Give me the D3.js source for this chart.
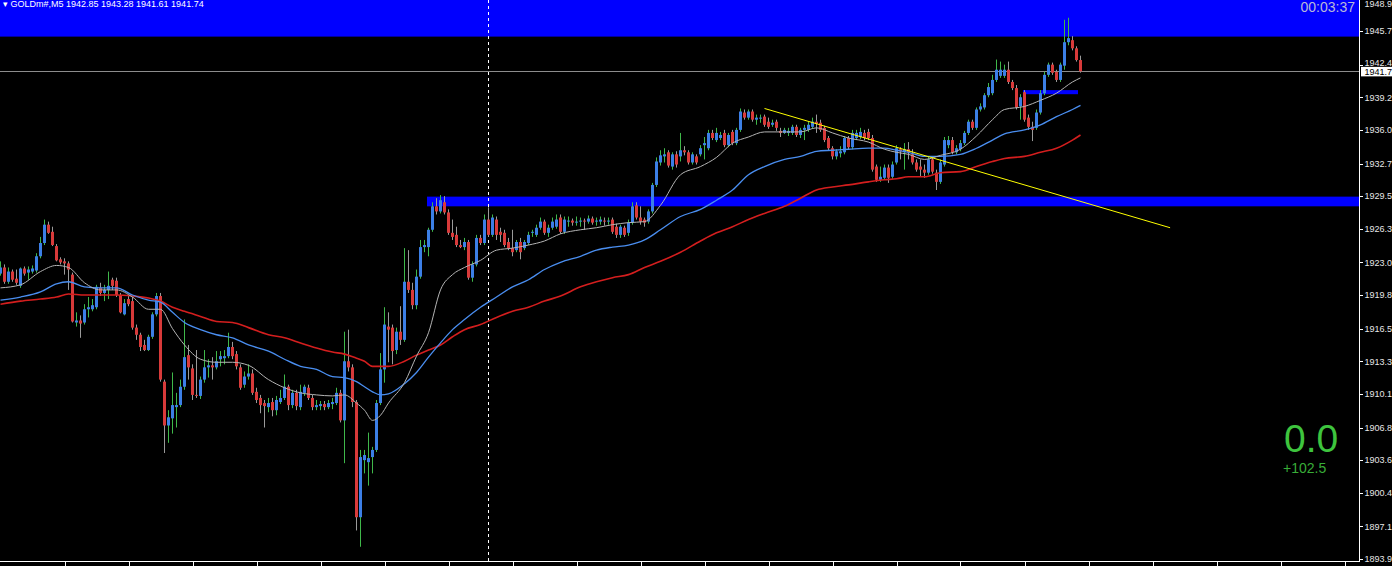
<!DOCTYPE html>
<html><head><meta charset="utf-8">
<script src="https://cdn.jsdelivr.net/npm/d3@7"></script>
<style>html,body{margin:0;padding:0;background:#000;overflow:hidden}</style>
</head><body><svg id="c" width="1392" height="566"></svg>
<script>
// ---- data ----
const symbolTitle = "GOLDm#,M5  1942.85 1943.28 1941.61 1941.74";
const timerText = "00:03:37";
const bigValue = "0.0";
const subValue = "+102.5";
const lastPrice = 1941.74;
const lastPriceLabel = "1941.7";
const tickLabels = ["1948.9","1945.7","1942.4","1939.2","1936.0","1932.7","1929.5","1926.3","1923.0","1919.8","1916.5","1913.3","1910.1","1906.8","1903.6","1900.4","1897.1","1893.9"];
// [open, high, low, close] per M5 bar
const ohlc = [
[1921.9,1923.1,1921.7,1922.5],[1922.5,1922.8,1920.9,1921.1],[1921.1,1922.5,1920.9,1922.1],[1922.1,1922.3,1921.1,1921.3],[1921.4,1922.3,1920.8,1921.0],
[1920.7,1922.5,1920.5,1922.4],[1922.4,1922.6,1921.7,1921.9],[1922.0,1922.6,1921.3,1922.3],[1922.1,1922.7,1921.9,1922.4],[1922.2,1923.9,1922.0,1923.6],
[1923.6,1925.5,1923.4,1924.9],[1924.9,1927.2,1924.7,1926.7],[1926.7,1927.0,1925.8,1925.9],[1926.0,1926.5,1924.6,1924.7],[1924.6,1924.8,1923.1,1923.2],
[1923.3,1923.5,1922.8,1923.0],[1923.1,1923.4,1921.8,1922.9],[1922.9,1923.1,1920.3,1922.3],[1921.8,1922.0,1917.1,1917.2],[1917.1,1918.1,1916.7,1917.3],
[1917.3,1917.8,1915.6,1917.0],[1917.1,1918.9,1916.9,1918.4],[1918.4,1919.6,1917.6,1918.6],[1918.4,1919.4,1918.2,1918.8],[1918.6,1920.8,1918.4,1920.6],
[1920.5,1921.0,1919.7,1920.0],[1920.0,1920.8,1919.2,1920.3],[1920.3,1922.1,1919.4,1920.7],[1921.3,1921.5,1920.3,1920.7],[1921.2,1921.5,1919.6,1919.8],
[1919.8,1920.0,1918.0,1918.1],[1917.9,1919.4,1917.8,1919.0],[1919.4,1919.7,1918.7,1918.9],[1919.2,1919.6,1916.4,1916.6],[1916.6,1916.9,1915.4,1915.9],
[1915.9,1916.1,1914.3,1914.7],[1914.9,1915.4,1914.3,1914.4],[1914.4,1915.9,1914.3,1915.7],[1915.7,1918.1,1915.5,1917.9],[1917.9,1920.0,1917.7,1919.7],
[1919.7,1920.0,1911.3,1911.5],[1911.3,1911.5,1904.3,1907.0],[1907.0,1908.5,1905.3,1907.8],[1907.7,1912.2,1906.2,1909.0],[1908.8,1910.2,1906.8,1909.0],
[1909.0,1911.5,1908.8,1910.8],[1910.8,1917.4,1910.5,1913.7],[1913.9,1914.9,1911.5,1912.7],[1912.6,1913.0,1909.5,1910.0],[1910.0,1914.4,1909.7,1909.9],
[1909.9,1911.8,1909.6,1911.5],[1911.5,1914.4,1911.2,1912.7],[1912.7,1913.5,1911.7,1912.9],[1912.9,1913.7,1911.5,1912.7],[1912.7,1914.3,1912.5,1913.3],
[1913.5,1914.3,1912.8,1913.8],[1913.6,1914.4,1913.0,1913.8],[1913.8,1916.1,1913.6,1914.7],[1914.7,1915.2,1913.5,1913.8],[1914.0,1914.3,1912.5,1912.8],
[1912.7,1913.0,1910.5,1910.7],[1911.0,1912.3,1910.7,1911.8],[1911.8,1913.0,1911.5,1912.1],[1912.1,1912.5,1910.0,1910.2],[1910.3,1910.7,1909.2,1909.5],
[1909.7,1910.0,1908.2,1909.0],[1909.2,1909.5,1906.8,1908.9],[1908.8,1909.7,1908.3,1909.2],[1909.3,1909.7,1907.9,1908.5],[1908.5,1909.9,1908.0,1909.5],
[1909.3,1910.5,1909.1,1909.7],[1909.7,1912.0,1909.5,1910.8],[1910.8,1911.0,1908.5,1909.0],[1909.0,1910.5,1908.7,1910.2],[1910.2,1910.5,1908.5,1908.9],
[1908.8,1911.0,1908.5,1910.3],[1910.2,1911.0,1909.9,1910.8],[1910.7,1911.0,1909.5,1909.7],[1909.7,1910.0,1908.5,1908.8],[1908.8,1909.5,1908.5,1909.0],
[1908.9,1909.4,1908.5,1909.1],[1909.1,1909.4,1908.5,1908.8],[1908.8,1909.5,1908.6,1909.2],[1909.1,1909.7,1908.6,1909.3],[1909.2,1910.7,1909.0,1910.2],
[1910.2,1910.5,1907.3,1907.5],[1907.5,1916.2,1903.3,1913.3],[1913.3,1916.4,1912.3,1912.7],[1912.7,1913.0,1908.8,1909.3],[1909.3,1909.5,1896.7,1898.0],
[1898.0,1904.6,1895.1,1903.9],[1903.6,1904.6,1902.3,1904.1],[1903.4,1906.3,1901.1,1903.8],[1903.9,1904.9,1902.3,1904.6],[1904.6,1909.5,1904.4,1909.2],
[1909.2,1914.1,1909.0,1912.5],[1912.5,1918.6,1911.2,1916.9],[1916.7,1918.1,1913.2,1916.4],[1916.6,1916.9,1913.0,1914.3],[1914.4,1916.6,1914.0,1916.2],
[1916.2,1918.7,1914.9,1915.4],[1915.4,1924.4,1915.2,1921.1],[1921.1,1924.2,1920.0,1920.3],[1920.3,1921.0,1918.4,1918.8],[1918.8,1922.3,1918.4,1921.6],
[1921.6,1925.2,1921.4,1924.5],[1924.5,1925.2,1924.0,1924.7],[1924.5,1926.4,1923.6,1926.2],[1926.2,1928.9,1926.0,1928.5],[1928.5,1929.3,1927.7,1928.0],
[1928.0,1929.6,1927.8,1929.1],[1928.9,1929.5,1927.7,1927.9],[1927.9,1928.2,1925.7,1925.9],[1925.9,1927.2,1925.2,1925.5],[1925.7,1926.5,1924.5,1924.7],
[1924.7,1925.2,1924.4,1924.5],[1924.5,1925.4,1924.2,1925.0],[1925.0,1925.2,1921.3,1921.5],[1921.5,1923.1,1921.1,1922.8],[1922.8,1925.7,1922.6,1925.4],
[1925.4,1925.7,1924.7,1924.9],[1924.9,1927.7,1924.7,1927.2],[1927.2,1928.4,1925.5,1925.7],[1925.7,1927.7,1925.5,1927.4],[1927.2,1927.5,1925.2,1925.7],
[1926.0,1926.4,1925.0,1925.7],[1925.9,1926.2,1924.5,1924.7],[1925.0,1925.4,1924.2,1924.4],[1924.4,1926.2,1923.6,1924.0],[1924.2,1925.2,1924.0,1925.0],
[1925.0,1925.4,1923.3,1924.0],[1924.4,1925.2,1924.2,1925.0],[1924.9,1926.0,1924.7,1925.7],[1925.9,1926.2,1925.5,1926.0],[1925.7,1926.7,1925.5,1926.4],
[1926.4,1927.4,1926.2,1927.0],[1927.0,1927.2,1925.7,1925.9],[1925.9,1926.7,1925.5,1926.4],[1926.4,1927.4,1926.2,1927.0],[1926.5,1927.7,1926.3,1927.2],
[1927.4,1927.7,1925.8,1926.0],[1926.0,1927.5,1925.8,1927.2],[1927.0,1927.5,1926.5,1927.1],[1927.1,1927.3,1926.6,1926.9],[1926.9,1927.5,1926.6,1927.0],
[1927.0,1927.4,1926.5,1927.1],[1927.1,1927.3,1926.2,1927.0],[1927.0,1927.6,1926.8,1927.3],[1927.3,1927.5,1926.7,1926.9],[1927.0,1927.4,1926.6,1927.1],
[1927.0,1927.5,1926.7,1927.2],[1927.1,1927.4,1926.6,1927.0],[1927.0,1927.4,1926.7,1927.1],[1927.2,1927.4,1925.8,1926.0],[1926.5,1926.8,1925.4,1925.7],
[1925.7,1926.7,1925.4,1926.5],[1926.4,1926.6,1925.5,1925.7],[1925.9,1927.2,1925.6,1926.9],[1926.9,1928.9,1926.7,1928.5],[1928.6,1928.9,1927.2,1927.4],
[1927.4,1928.5,1926.7,1927.0],[1927.2,1927.4,1926.5,1926.9],[1927.0,1928.2,1926.8,1928.0],[1928.0,1930.8,1927.8,1930.6],[1930.6,1933.3,1930.4,1932.9],
[1932.8,1934.0,1932.5,1933.5],[1933.4,1934.2,1932.8,1933.6],[1933.8,1934.0,1932.3,1932.5],[1932.4,1933.8,1932.1,1933.6],[1933.6,1933.9,1932.3,1932.6],
[1933.4,1935.7,1932.9,1934.0],[1934.0,1934.4,1933.5,1933.8],[1933.8,1934.0,1932.6,1932.8],[1932.8,1933.8,1932.6,1933.6],[1933.4,1933.6,1932.6,1932.8],
[1933.6,1934.5,1933.4,1934.2],[1934.5,1935.3,1933.1,1934.7],[1934.2,1936.0,1934.0,1935.7],[1935.7,1936.0,1935.0,1935.2],[1935.0,1936.2,1934.8,1935.7],
[1935.2,1935.8,1935.0,1935.5],[1935.7,1936.0,1934.3,1934.5],[1934.5,1935.7,1934.3,1935.5],[1935.8,1936.0,1934.5,1934.7],[1934.7,1936.2,1934.5,1936.0],
[1936.0,1938.1,1935.8,1937.8],[1937.7,1938.0,1937.0,1937.2],[1937.2,1938.0,1937.0,1937.8],[1937.8,1938.0,1936.8,1937.0],[1937.0,1937.5,1936.5,1937.2],
[1937.1,1937.5,1936.7,1937.2],[1937.3,1937.5,1936.3,1936.5],[1936.8,1937.2,1936.1,1936.3],[1936.5,1937.0,1936.3,1936.7],[1936.8,1937.0,1935.9,1936.2],
[1935.9,1936.2,1935.3,1935.7],[1935.7,1936.2,1935.6,1936.0],[1935.7,1936.2,1935.4,1935.9],[1935.7,1936.5,1935.5,1936.3],[1936.3,1936.5,1935.3,1935.5],
[1935.5,1936.2,1935.2,1936.0],[1936.0,1936.5,1935.0,1936.2],[1936.0,1936.8,1935.8,1936.5],[1936.3,1937.2,1936.1,1936.8],[1936.8,1937.5,1935.7,1936.6],
[1936.7,1937.0,1935.8,1936.0],[1936.2,1936.4,1934.8,1935.0],[1935.2,1935.4,1934.0,1934.2],[1934.2,1934.4,1933.1,1933.4],[1933.4,1934.1,1933.1,1933.9],
[1933.7,1934.4,1933.3,1933.9],[1933.8,1935.4,1933.6,1935.2],[1935.2,1935.4,1934.1,1934.3],[1934.3,1936.0,1934.1,1935.7],[1935.2,1936.0,1935.0,1935.7],
[1935.3,1936.2,1935.1,1935.8],[1935.7,1936.0,1935.0,1935.2],[1935.8,1936.1,1935.0,1935.2],[1935.2,1935.5,1931.9,1932.1],[1932.4,1932.6,1930.9,1931.1],
[1931.1,1932.4,1930.9,1931.4],[1931.3,1932.6,1931.1,1932.3],[1932.3,1932.6,1930.8,1931.3],[1931.4,1932.9,1931.2,1932.6],[1932.8,1934.5,1932.6,1934.2],
[1934.1,1934.3,1933.1,1933.9],[1933.8,1934.7,1932.1,1934.1],[1934.1,1934.8,1933.1,1933.8],[1933.6,1934.1,1932.6,1932.8],[1932.8,1933.1,1931.9,1932.1],
[1932.4,1933.1,1931.4,1932.1],[1932.1,1932.6,1931.3,1931.8],[1931.8,1933.4,1931.6,1933.1],[1933.1,1933.4,1931.7,1931.9],[1931.8,1932.1,1930.1,1930.9],
[1930.9,1933.1,1930.7,1932.8],[1932.6,1935.3,1932.4,1935.0],[1934.5,1935.4,1934.2,1935.0],[1935.0,1935.3,1933.6,1933.8],[1933.8,1934.5,1933.6,1934.2],
[1934.1,1935.0,1933.9,1934.7],[1934.7,1935.9,1934.5,1935.7],[1935.7,1937.0,1935.5,1936.8],[1936.8,1937.0,1936.0,1936.2],[1936.2,1938.2,1936.0,1938.0],
[1938.0,1938.6,1937.8,1938.3],[1938.2,1939.6,1938.0,1939.4],[1939.4,1940.6,1939.2,1940.2],[1939.6,1941.4,1939.4,1940.9],[1940.9,1942.9,1940.7,1941.9],
[1941.3,1942.7,1941.1,1941.9],[1941.3,1942.4,1941.1,1941.9],[1941.9,1942.7,1940.5,1940.7],[1940.7,1940.9,1939.9,1940.1],[1940.1,1940.4,1938.0,1938.2],
[1938.3,1939.5,1937.0,1939.2],[1939.7,1939.9,1936.8,1937.0],[1937.2,1937.5,1936.0,1936.3],[1936.3,1936.8,1934.9,1936.0],[1936.2,1938.0,1936.0,1937.7],
[1937.7,1939.9,1937.5,1939.6],[1939.6,1941.7,1939.4,1941.4],[1941.4,1942.6,1941.2,1942.4],[1942.4,1942.6,1941.4,1941.6],[1941.7,1941.9,1940.7,1940.9],
[1940.9,1942.6,1940.7,1942.4],[1942.3,1946.8,1941.9,1944.6],[1944.6,1947.0,1944.3,1945.0],[1944.8,1945.2,1943.8,1944.0],[1944.0,1944.2,1942.7,1942.85],
[1942.85,1943.28,1941.61,1941.74]
];
// moving averages read at these bar indices
const maIdx = [0,5,10,14,17,21,25,29,33,37,40,43,46,50,54,58,62,67,71,75,79,83,86,89,91,93,95,97,101,104,107,110,113,116,120,124,128,132,136,140,145,149,153,157,161,165,170,175,179,183,187,191,196,200,204,208,212,217,221,224,227,231,235,240,244,248,251,256,260,264,268,270];
const maGray = [1920.5,1920.8,1922.1,1922.7,1922.5,1921.0,1920.3,1920.3,1919.6,1918.4,1918.4,1916.5,1914.9,1913.5,1913.2,1913.2,1912.9,1911.5,1910.7,1910.2,1910.0,1909.9,1910.0,1909.2,1908.5,1907.5,1908.0,1909.2,1911.2,1913.8,1916.1,1920.3,1921.8,1922.5,1923.2,1924.2,1924.4,1924.7,1925.1,1925.8,1926.2,1926.4,1926.7,1926.9,1927.0,1928.6,1931.6,1932.4,1933.3,1934.7,1935.3,1935.8,1935.8,1935.8,1936.2,1935.7,1935.2,1934.8,1934.1,1933.8,1933.6,1933.1,1933.5,1934.1,1935.4,1937.0,1938.0,1938.3,1938.9,1939.6,1940.7,1941.1];
const maBlue = [1919.3,1919.6,1920.1,1920.9,1921.1,1920.6,1920.5,1920.5,1919.8,1919.3,1919.1,1918.1,1917.1,1916.4,1915.9,1915.6,1914.9,1914.3,1913.5,1912.8,1912.5,1911.8,1911.7,1911.3,1910.8,1910.3,1910.0,1910.1,1911.1,1912.2,1913.7,1915.1,1916.4,1917.4,1918.6,1919.6,1920.6,1921.3,1922.3,1923.0,1923.6,1924.2,1924.5,1924.7,1925.2,1926.2,1927.5,1928.2,1929.1,1930.1,1931.6,1932.4,1933.1,1933.4,1933.9,1934.0,1934.1,1934.2,1934.2,1934.0,1933.8,1933.4,1933.4,1933.6,1934.2,1935.0,1935.6,1936.0,1936.5,1937.3,1938.0,1938.4];
const maRed = [1918.9,1919.2,1919.4,1919.6,1919.9,1919.8,1919.8,1919.8,1919.7,1919.5,1919.2,1918.6,1918.2,1917.7,1917.2,1917.1,1916.6,1915.9,1915.6,1915.1,1914.6,1914.2,1914.0,1913.6,1913.3,1912.8,1912.8,1912.8,1913.3,1913.9,1914.4,1914.9,1915.7,1916.4,1916.9,1917.6,1918.2,1918.6,1919.2,1919.7,1920.6,1921.1,1921.5,1921.8,1922.5,1923.1,1924.0,1925.1,1925.9,1926.5,1927.2,1927.8,1928.5,1929.3,1930.1,1930.4,1930.6,1930.9,1931.1,1931.2,1931.4,1931.4,1931.8,1931.9,1932.4,1932.9,1933.2,1933.4,1933.8,1934.2,1935.0,1935.5];
// zones: [fromIdx, toIdx (null = right edge), lowPrice, highPrice]
const zones = [[-1,null,1945.15,1952],[107,null,1928.5,1929.45],[256,269,1939.5,1939.9]];
const trendIdx = [191, 292.4];
const trendPrice = [1938.1, 1926.4];
const cursorIdx = 122;

// ---- chart ----
const plotR = 1359, plotB = 561;
const FONT = '"Liberation Sans", Arial, sans-serif';
const svg = d3.select('#c');
svg.append('rect').attr('width',1392).attr('height',566).attr('fill','#000');
svg.append('defs').append('clipPath').attr('id','clip').append('rect')
  .attr('x',0).attr('y',0).attr('width',plotR).attr('height',plotB);

const x = d3.scaleLinear().domain([0, 339.625]).range([0.5, plotR]);
const y = d3.scaleLinear().domain([1893.9, 1945.7]).range([559, 31]);

const g = svg.append('g').attr('clip-path','url(#clip)');

// zones
g.selectAll('rect.zone').data(zones).join('rect')
  .attr('x', d => x(d[0]) - 1.5)
  .attr('width', d => (d[1] === null ? plotR : x(d[1]) + 1.5) - (x(d[0]) - 1.5))
  .attr('y', d => y(d[3])).attr('height', d => y(d[2]) - y(d[3]))
  .attr('fill', '#0000ff');

// last price line
g.append('line').attr('x1',0).attr('x2',plotR)
  .attr('y1', Math.round(y(lastPrice))+0.5).attr('y2', Math.round(y(lastPrice))+0.5)
  .attr('stroke','#8c8c8c').attr('stroke-width',1);

// cursor dashed line
g.append('line').attr('x1', x(cursorIdx)).attr('x2', x(cursorIdx)).attr('y1',0).attr('y2',plotB)
  .attr('stroke','#fff').attr('stroke-width',1).attr('stroke-dasharray','3,3');

// candles
const bars = ohlc.map((d,i)=>({i, o:d[0], h:d[1], l:d[2], c:d[3], up:d[3]>=d[0]}));
g.selectAll('line.wick').data(bars).join('line')
  .attr('x1', d => x(d.i)).attr('x2', d => x(d.i))
  .attr('y1', d => y(d.h)).attr('y2', d => y(d.l))
  .attr('stroke', d => d.up ? '#3fb84a' : '#9a9a9a').attr('stroke-width',1);
g.selectAll('rect.body').data(bars).join('rect')
  .attr('x', d => x(d.i) - 1.5).attr('width', 3)
  .attr('y', d => y(Math.max(d.o,d.c)))
  .attr('height', d => Math.max(1, Math.abs(y(d.o) - y(d.c))))
  .attr('fill', d => d.up ? '#3c7fe6' : '#d83a3a');

// moving averages
const line = d3.line().x(d => x(d[0])).y(d => y(d[1])).curve(d3.curveMonotoneX);
const mk = arr => maIdx.map((k,j)=>[k, arr[j]]);
g.append('path').attr('d', line(mk(maRed))).attr('fill','none').attr('stroke','#d41e1e').attr('stroke-width',1.6);
g.append('path').attr('d', line(mk(maBlue))).attr('fill','none').attr('stroke','#4a8ef0').attr('stroke-width',1.3);
g.append('path').attr('d', line(mk(maGray))).attr('fill','none').attr('stroke','#b4b4b4').attr('stroke-width',1);

// trendline
g.append('line').attr('x1', x(trendIdx[0])).attr('y1', y(trendPrice[0]))
  .attr('x2', x(trendIdx[1])).attr('y2', y(trendPrice[1]))
  .attr('stroke','#ffff00').attr('stroke-width',1);

// axes
svg.append('line').attr('x1',plotR+0.5).attr('x2',plotR+0.5).attr('y1',0).attr('y2',plotB+1).attr('stroke','#fff');
svg.append('line').attr('x1',0).attr('x2',plotR+1).attr('y1',plotB+0.5).attr('y2',plotB+0.5).attr('stroke','#fff');
const tickVals = tickLabels.map(Number);
const yAxis = svg.append('g');
yAxis.selectAll('line').data(tickVals).join('line')
  .attr('x1',plotR).attr('x2',plotR+4).attr('y1', d => Math.round(y(d))+0.5).attr('y2', d => Math.round(y(d))+0.5)
  .attr('stroke','#fff');
const ly = y(lastPrice);
yAxis.selectAll('text').data(tickLabels).join('text')
  .attr('x', 1364.5)
  .attr('y', d => {
    let b = Math.max(7, y(+d) + 3.3);
    if (b > ly - 6 && b < ly + 12) b = ly - 5.5; // keep clear of the price box
    return b;
  })
  .attr('fill','#e6e6e6').attr('font-family',FONT).attr('font-size','9px')
  .text(d => d);
const xTicks = d3.range(16, 340, 16);
svg.append('g').selectAll('line').data(xTicks).join('line')
  .attr('x1', d => Math.round(x(d))+0.5).attr('x2', d => Math.round(x(d))+0.5)
  .attr('y1', plotB).attr('y2', 566).attr('stroke','#fff');

// last price label
svg.append('rect').attr('x', plotR+2).attr('y', ly-4.5).attr('width', 1392-plotR-2).attr('height', 9.5).attr('fill','#fff');
svg.append('text').attr('x',1364.5).attr('y', ly+3.3).attr('fill','#000')
  .attr('font-family',FONT).attr('font-size','9px').text(lastPriceLabel);

// title & timer
svg.append('text').attr('x',3).attr('y',7).attr('fill','#fff')
  .attr('font-family',FONT).attr('font-size','9px').text('\u25BE ' + symbolTitle);
svg.append('text').attr('x',1355).attr('y',12).attr('text-anchor','end').attr('fill','#b8b8d8')
  .attr('font-family',FONT).attr('font-size','14px').text(timerText);

// big value
svg.append('text').attr('x',1284).attr('y',452).attr('fill','#3ec43e')
  .attr('font-family',FONT).attr('font-size','39px').text(bigValue);
svg.append('text').attr('x',1283).attr('y',473).attr('fill','#38ad38')
  .attr('font-family',FONT).attr('font-size','14px').text(subValue);
</script>
</body></html>
